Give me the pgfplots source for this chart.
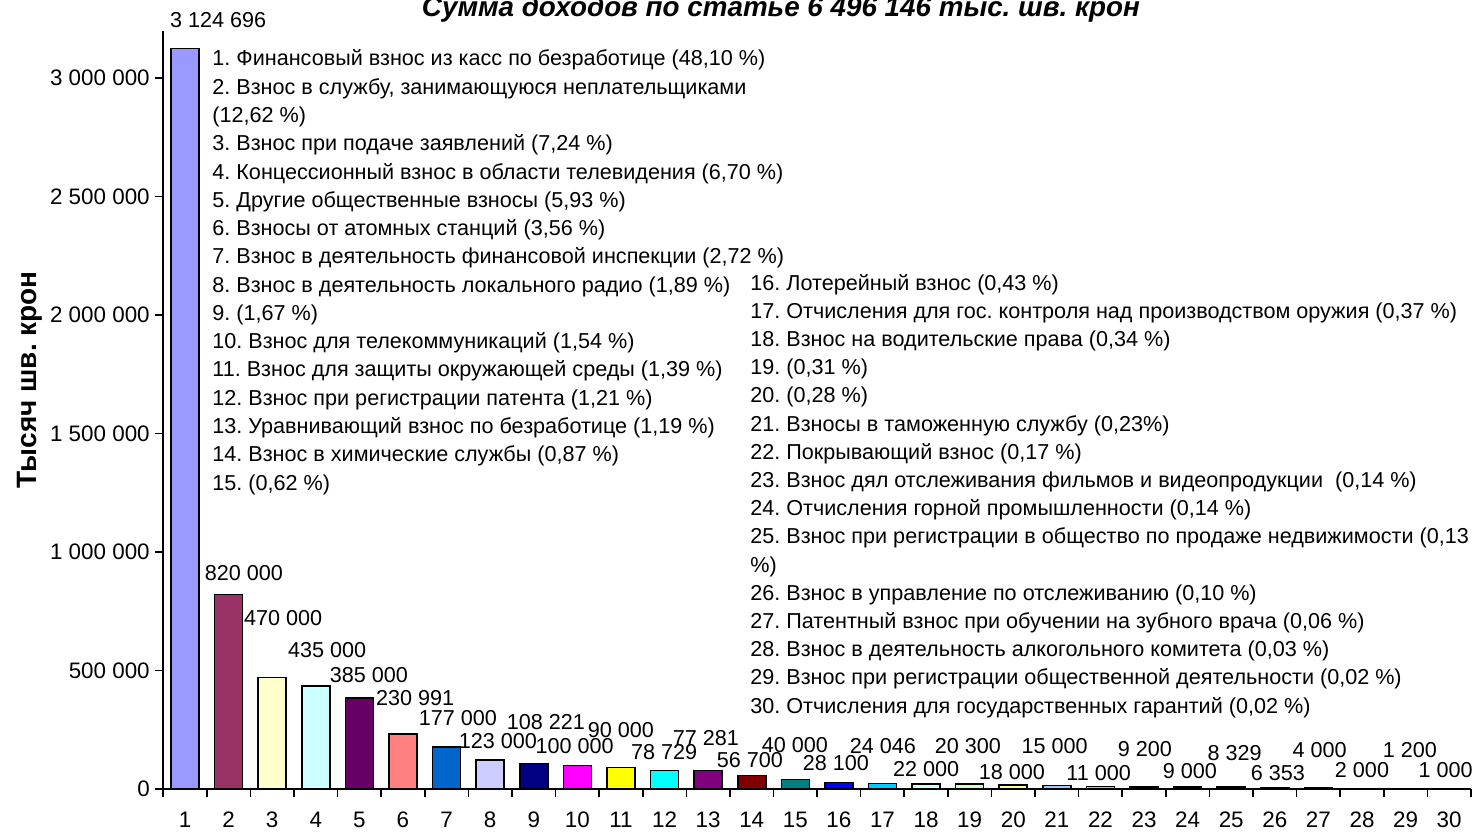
\documentclass[border=0pt]{standalone}
\usepackage{pgfplots}
\pgfplotsset{compat=1.18}
\usepackage{fontspec}
\setmainfont{Liberation Sans}
\frenchspacing
\definecolor{c1}{HTML}{9999FF}\definecolor{c2}{HTML}{993366}\definecolor{c3}{HTML}{FFFFCC}
\definecolor{c4}{HTML}{CCFFFF}\definecolor{c5}{HTML}{660066}\definecolor{c6}{HTML}{FF8080}
\definecolor{c7}{HTML}{0066CC}\definecolor{c8}{HTML}{CCCCFF}\definecolor{c9}{HTML}{000080}
\definecolor{c10}{HTML}{FF00FF}\definecolor{c11}{HTML}{FFFF00}\definecolor{c12}{HTML}{00FFFF}
\definecolor{c13}{HTML}{800080}\definecolor{c14}{HTML}{800000}\definecolor{c15}{HTML}{008080}
\definecolor{c16}{HTML}{0000FF}\definecolor{c17}{HTML}{00CCFF}\definecolor{c18}{HTML}{CCFFFF}
\definecolor{c19}{HTML}{CCFFCC}\definecolor{c20}{HTML}{FFFF99}\definecolor{c21}{HTML}{99CCFF}
\definecolor{c22}{HTML}{FF99CC}\definecolor{c23}{HTML}{CC99FF}\definecolor{c24}{HTML}{FFCC99}
\definecolor{c25}{HTML}{3366FF}\definecolor{c26}{HTML}{33CCCC}\definecolor{c27}{HTML}{99CC00}
\definecolor{c28}{HTML}{FFCC00}\definecolor{c29}{HTML}{FF9900}\definecolor{c30}{HTML}{FF6600}
\newcommand{\lf}{\fontsize{10.8}{12}\selectfont}
\newcommand{\tf}{\fontsize{11.2}{12}\selectfont}
\begin{document}
\begin{tikzpicture}
\begin{axis}[
  at={(81.6pt,21.5pt)}, anchor=south west,
  scale only axis, width=653.9pt, height=379.2pt,
  xmin=0.5, xmax=30.5, ymin=0, ymax=3200000,
  clip=false,
  every axis plot/.append style={ybar, bar width=14pt, bar shift=0pt, draw=black, line width=0.8pt},
  axis x line*=bottom, axis y line*=left,
  x axis line style={-, line width=0.8pt}, y axis line style={-, line width=0.8pt},
  tick align=outside,
  xtick={1,...,30}, major x tick style={draw=none},
  minor xtick={0.5,1.5,...,30.5},
  minor x tick style={black, line width=0.8pt},
  minor tick length=4pt, major tick length=4pt,
  ytick={0,500000,1000000,1500000,2000000,2500000,3000000},
  yticklabels={0,500 000,1 000 000,1 500 000,2 000 000,2 500 000,3 000 000},
  y tick style={black, line width=0.8pt},
  /pgf/number format/assume math mode=true,
  ticklabel style={font=\tf},
  xticklabel style={yshift=-4pt},
  yticklabel style={xshift=0.8pt},
  scaled y ticks=false,
]
\addplot[fill=c1] coordinates {(1,3124696)};
\addplot[fill=c2] coordinates {(2,820000)};
\addplot[fill=c3] coordinates {(3,470000)};
\addplot[fill=c4] coordinates {(4,435000)};
\addplot[fill=c5] coordinates {(5,385000)};
\addplot[fill=c6] coordinates {(6,230991)};
\addplot[fill=c7] coordinates {(7,177000)};
\addplot[fill=c8] coordinates {(8,123000)};
\addplot[fill=c9] coordinates {(9,108221)};
\addplot[fill=c10] coordinates {(10,100000)};
\addplot[fill=c11] coordinates {(11,90000)};
\addplot[fill=c12] coordinates {(12,78729)};
\addplot[fill=c13] coordinates {(13,77281)};
\addplot[fill=c14] coordinates {(14,56700)};
\addplot[fill=c15] coordinates {(15,40000)};
\addplot[fill=c16] coordinates {(16,28100)};
\addplot[fill=c17] coordinates {(17,24046)};
\addplot[fill=c18] coordinates {(18,22000)};
\addplot[fill=c19] coordinates {(19,20300)};
\addplot[fill=c20] coordinates {(20,18000)};
\addplot[fill=c21] coordinates {(21,15000)};
\addplot[fill=c22] coordinates {(22,11000)};
\addplot[fill=c23] coordinates {(23,9200)};
\addplot[fill=c24] coordinates {(24,9000)};
\addplot[fill=c25] coordinates {(25,8329)};
\addplot[fill=c26] coordinates {(26,6353)};
\addplot[fill=c27] coordinates {(27,4000)};
\addplot[fill=c28] coordinates {(28,2000)};
\addplot[fill=c29] coordinates {(29,1200)};
\addplot[fill=c30] coordinates {(30,1000)};
\begin{scope}[every node/.style={font=\lf, inner sep=0pt}]
\node at (axis cs:1.76,3244000) {3 124 696};
\node at (axis cs:2.35,911000) {820 000};
\node at (axis cs:3.25,721500) {470 000};
\node at (axis cs:4.26,586500) {435 000};
\node at (axis cs:5.22,481000) {385 000};
\node at (axis cs:6.28,384000) {230 991};
\node at (axis cs:7.26,299600) {177 000};
\node at (axis cs:8.18,202500) {123 000};
\node at (axis cs:9.28,282700) {108 221};
\node at (axis cs:9.94,181400) {100 000};
\node at (axis cs:11.0,249000) {90 000};
\node at (axis cs:11.99,156100) {78 729};
\node at (axis cs:12.95,215200) {77 281};
\node at (axis cs:13.96,122400) {56 700};
\node at (axis cs:14.99,185600) {40 000};
\node at (axis cs:15.93,109700) {28 100};
\node at (axis cs:17.01,181400) {24 046};
\node at (axis cs:18.0,84400) {22 000};
\node at (axis cs:18.96,181400) {20 300};
\node at (axis cs:19.97,71700) {18 000};
\node at (axis cs:20.95,181400) {15 000};
\node at (axis cs:21.96,67500) {11 000};
\node at (axis cs:23.02,168800) {9 200};
\node at (axis cs:24.05,75900) {9 000};
\node at (axis cs:25.08,151900) {8 329};
\node at (axis cs:26.07,67500) {6 353};
\node at (axis cs:27.03,164500) {4 000};
\node at (axis cs:28.0,80200) {2 000};
\node at (axis cs:29.1,164500) {1 200};
\node at (axis cs:29.92,80200) {1 000};
\end{scope}
\end{axis}
\begin{scope}[x=0.5pt, y=-0.5pt, shift={(0pt,416pt)}]
\node[anchor=base, font=\fontsize{13.9}{15}\selectfont\bfseries\itshape, inner sep=0pt] at (781,17) {Сумма доходов по статье 6 496 146 тыс. шв. крон};
\node[rotate=90, font=\fontsize{14}{15}\selectfont\bfseries, inner sep=0pt] at (30,380) {Тысяч шв. крон};
\foreach \t [count=\i from 0] in {
 {1. Финансовый взнос из касс по безработице (48,10 \%)},
 {2. Взнос в службу, занимающуюся неплательщиками},
 {(12,62 \%)},
 {3. Взнос при подаче заявлений (7,24 \%)},
 {4. Концессионный взнос в области телевидения (6,70 \%)},
 {5. Другие общественные взносы (5,93 \%)},
 {6. Взносы от атомных станций (3,56 \%)},
 {7. Взнос в деятельность финансовой инспекции (2,72 \%)},
 {8. Взнос в деятельность локального радио (1,89 \%)},
 {9. (1,67 \%)},
 {10. Взнос для телекоммуникаций (1,54 \%)},
 {11. Взнос для защиты окружающей среды (1,39 \%)},
 {12. Взнос при регистрации патента (1,21 \%)},
 {13. Уравнивающий взнос по безработице (1,19 \%)},
 {14. Взнос в химические службы (0,87 \%)},
 {15. (0,62 \%)}}
 \node[anchor=base west, font=\lf, inner sep=0pt] at (212, 66+28.27*\i) {\t};
\foreach \t [count=\i from 0] in {
 {16. Лотерейный взнос (0,43 \%)},
 {17. Отчисления для гос. контроля над производством оружия (0,37 \%)},
 {18. Взнос на водительские права (0,34 \%)},
 {19. (0,31 \%)},
 {20. (0,28 \%)},
 {21. Взносы в таможенную службу (0,23\%)},
 {22. Покрывающий взнос (0,17 \%)},
 {23. Взнос дял отслеживания фильмов и видеопродукции~ (0,14 \%)},
 {24. Отчисления горной промышленности (0,14 \%)},
 {25. Взнос при регистрации в общество по продаже недвижимости (0,13},
 {\%)},
 {26. Взнос в управление по отслеживанию (0,10 \%)},
 {27. Патентный взнос при обучении на зубного врача (0,06 \%)},
 {28. Взнос в деятельность алкогольного комитета (0,03 \%)},
 {29. Взнос при регистрации общественной деятельности (0,02 \%)},
 {30. Отчисления для государственных гарантий (0,02 \%)}}
 \node[anchor=base west, font=\lf, inner sep=0pt] at (750, 290+28.2*\i) {\t};
\end{scope}
\pgfresetboundingbox
\path (0,0) rectangle (737pt,416pt);
\end{tikzpicture}
\end{document}
